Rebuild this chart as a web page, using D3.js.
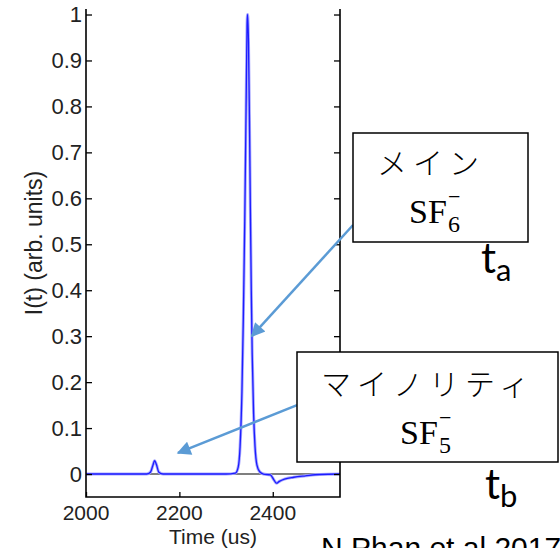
<!DOCTYPE html>
<html>
<head>
<meta charset="utf-8">
<script src="https://cdn.jsdelivr.net/npm/d3@7"></script>
<style>
  body { margin: 0; background: #fff; }
</style>
</head>
<body>
<div id="chart"></div>
<script>
// trace (time in us, normalised intensity)
const times = [2000, 2050, 2100, 2130, 2138, 2143, 2147, 2151, 2156, 2165, 2200, 2250, 2300, 2320,
  2326, 2330, 2334, 2337, 2340, 2342, 2344, 2345, 2346, 2348, 2350, 2352, 2354, 2356, 2359,
  2362, 2366, 2372, 2380, 2395, 2402, 2408, 2414, 2425, 2445, 2470, 2500, 2544];
const intensity = [0, 0, 0, 0, 0.004, 0.018, 0.029, 0.02, 0.004, 0, 0, 0, 0, 0.002,
  0.015, 0.06, 0.18, 0.34, 0.55, 0.72, 0.9, 0.98, 1.0, 0.94, 0.78, 0.58, 0.4, 0.26, 0.13,
  0.06, 0.02, 0.005, 0, -0.002, -0.012, -0.02, -0.016, -0.011, -0.007, -0.004, -0.001, 0];

const xTicks = [2000, 2200, 2400];
const yTicks = [0, 0.1, 0.2, 0.3, 0.4, 0.5, 0.6, 0.7, 0.8, 0.9, 1];

// arrows pointing at the peaks, ends given in data units
const arrowFrom = [[2572, 0.542], [2452, 0.15]];
const arrowTo = [[2355, 0.30], [2197, 0.046]];

const width = 560;
const height = 548;
const sans = '"Liberation Sans", Arial, sans-serif';
const jp = '"Noto Sans CJK JP", sans-serif';
const serif = '"Liberation Serif", "DejaVu Serif", serif';
const calib = 'Lato, "Open Sans", sans-serif';

const x = d3.scaleLinear().domain([2000, 2544]).range([86, 340]);
const y = d3.scaleLinear().domain([-0.05, 1.012]).range([497, 9]);

const svg = d3.select('#chart').append('svg')
  .attr('width', width)
  .attr('height', height)
  .attr('viewBox', `0 0 ${width} ${height}`);

const data = times.map((t, i) => ({t, v: intensity[i]}));

const line = d3.line()
  .x(d => x(d.t))
  .y(d => y(d.v))
  .curve(d3.curveMonotoneX);

// zero line
svg.append('line')
  .attr('x1', x.range()[0]).attr('x2', x.range()[1])
  .attr('y1', y(0)).attr('y2', y(0))
  .attr('stroke', '#000').attr('stroke-width', 1.2);

svg.append('path')
  .attr('d', line(data))
  .attr('fill', 'none')
  .attr('stroke', '#a8a8ff')
  .attr('stroke-width', 3);
svg.append('path')
  .attr('d', line(data))
  .attr('fill', 'none')
  .attr('stroke', '#1c1cff')
  .attr('stroke-width', 1.3);

// left / right / bottom ticks, pointing inward
const yl = svg.append('g')
  .attr('transform', `translate(${x.range()[0]},0)`)
  .call(d3.axisRight(y).tickValues(yTicks).tickSize(6).tickFormat(''));
const yr = svg.append('g')
  .attr('transform', `translate(${x.range()[1]},0)`)
  .call(d3.axisLeft(y).tickValues(yTicks).tickSize(6).tickFormat(''));
const xb = svg.append('g')
  .attr('transform', `translate(0,${y.range()[0]})`)
  .call(d3.axisTop(x).tickValues(xTicks).tickSize(5).tickFormat(''));
[yl, yr, xb].forEach(g => {
  g.select('.domain').remove();
  g.selectAll('.tick line').attr('stroke', '#000').attr('stroke-width', 1.3);
});
// open-topped frame
svg.append('path')
  .attr('d', `M${x.range()[0]},${y.range()[1]}V${y.range()[0]}H${x.range()[1]}V${y.range()[1]}`)
  .attr('fill', 'none').attr('stroke', '#000').attr('stroke-width', 1.6);

// tick labels
svg.append('g').selectAll('text').data(yTicks).join('text')
  .attr('x', x.range()[0] - 4)
  .attr('y', d => y(d))
  .attr('dy', '0.36em')
  .attr('text-anchor', 'end')
  .attr('font-family', sans).attr('font-size', 22).attr('fill', '#222')
  .text(d => d3.format('~g')(d));
svg.append('g').selectAll('text').data(xTicks).join('text')
  .attr('x', d => x(d))
  .attr('y', 520)
  .attr('text-anchor', 'middle')
  .attr('font-family', sans).attr('font-size', 21).attr('fill', '#222')
  .text(d => d);

svg.append('text')
  .attr('x', (x.range()[0] + x.range()[1]) / 2).attr('y', 544)
  .attr('text-anchor', 'middle')
  .attr('font-family', sans).attr('font-size', 21).attr('fill', '#222')
  .text('Time (us)');
svg.append('text')
  .attr('transform', `translate(42,243) rotate(-90)`)
  .attr('text-anchor', 'middle')
  .attr('font-family', sans).attr('font-size', 23).attr('fill', '#222')
  .text('I(t) (arb. units)');

// arrows
const defs = svg.append('defs');
defs.append('marker')
  .attr('id', 'head')
  .attr('viewBox', '0 0 10 10')
  .attr('refX', 9).attr('refY', 5)
  .attr('markerWidth', 16).attr('markerHeight', 14)
  .attr('markerUnits', 'userSpaceOnUse')
  .attr('orient', 'auto')
  .append('path').attr('d', 'M0,0L10,5L0,10Z').attr('fill', '#5b9bd5');

arrowFrom.forEach((f, i) => {
  const t = arrowTo[i];
  svg.append('line')
    .attr('x1', x(f[0])).attr('y1', y(f[1]))
    .attr('x2', x(t[0])).attr('y2', y(t[1]))
    .attr('stroke', '#5b9bd5').attr('stroke-width', 2.5)
    .attr('marker-end', 'url(#head)');
});

// callout boxes; the ion formula is a single text with stacked sub/superscript
function callout(bx, by, bw, bh, label, lx, ly, sub, sx, sy) {
  svg.append('rect')
    .attr('x', bx).attr('y', by).attr('width', bw).attr('height', bh)
    .attr('fill', '#fff').attr('stroke', '#000').attr('stroke-width', 1.5);
  svg.append('text')
    .attr('x', lx).attr('y', ly)
    .attr('font-family', jp).attr('font-size', 30).attr('font-weight', 300)
    .attr('letter-spacing', 6)
    .text(label);
  const f = svg.append('text')
    .attr('x', sx).attr('y', sy)
    .attr('font-family', serif).attr('font-size', 34);
  f.append('tspan').text('SF');
  f.append('tspan').attr('x', sx + 39).attr('dy', 9).attr('font-size', 24).text(sub);
  f.append('tspan').attr('x', sx + 39).attr('dy', -28).attr('font-size', 22).text('\u2212');
}
callout(353, 133, 175, 109, 'メイン', 377, 174, '6', 409, 223);
callout(297, 352, 261, 110, 'マイノリティ', 321, 395, '5', 400, 444);

function timeLabel(tx, ty, sub) {
  const t = svg.append('text').attr('x', tx).attr('y', ty)
    .attr('font-family', calib).attr('font-size', 42);
  t.append('tspan').text('t');
  t.append('tspan').attr('font-size', 31).attr('dy', 8).text(sub);
}
timeLabel(481, 273, 'a');
timeLabel(485, 499, 'b');

svg.append('text')
  .attr('x', 321).attr('y', 558)
  .attr('font-family', sans).attr('font-size', 30)
  .text('N.Phan et al 2017');
</script>
</body>
</html>
